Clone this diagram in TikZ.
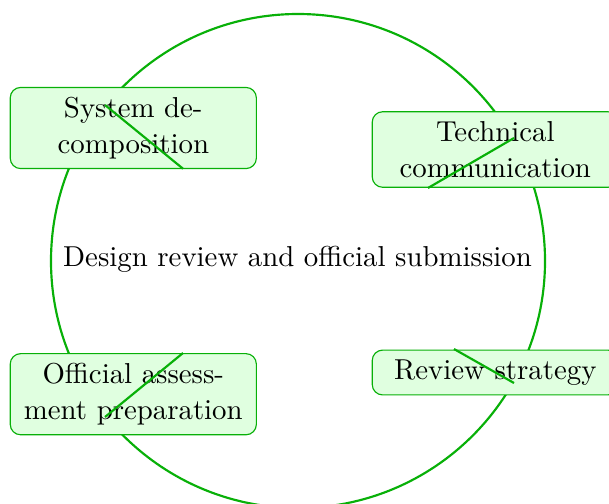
\documentclass[tikz,border=0pt]{standalone}
\definecolor{ringgreen}{RGB}{8,176,8}
\definecolor{boxfill}{RGB}{224,255,224}
\tikzset{
  topic/.style={draw=ringgreen, fill=boxfill, rounded corners=3.6pt, line width=0.4pt,
    minimum width=85.4pt, align=center, inner sep=3.33pt,
    font=\fontsize{10}{12.5}\selectfont},
  ring/.style={draw=ringgreen, line width=0.75pt},
  bar/.style={draw=ringgreen, line width=0.75pt},
  centertext/.style={font=\fontsize{10}{12.5}\selectfont, inner sep=0pt}
}
\begin{document}
\begin{tikzpicture}[x=0.347pt, y=-0.347pt]
\useasboundingbox (0,0) rectangle (609,503);
\node[centertext] (c) at (297.5,259.5) {Design review and official submission};
\draw[ring] (298,261) circle[radius=247];
\node[topic] (n1) at (133.3,128) {System de-\\composition};
\node[topic] (n2) at (495.3,149.5) {Technical\\communication};
\node[topic] (n3) at (133.3,394.2) {Official assess-\\ment preparation};
\node[topic] (n4) at (495.3,372.5) {Review strategy};
\coordinate (a1) at (105,105);
\coordinate (b1) at (183,168.7);
\coordinate (a2) at (514,138);
\coordinate (b2) at (428,188);
\coordinate (a3) at (183,353);
\coordinate (b3) at (105,417);
\coordinate (a4) at (454,349);
\coordinate (b4) at (514,383);
\draw[bar] (a1) -- (b1);
\draw[bar] (a2) -- (b2);
\draw[bar] (a3) -- (b3);
\draw[bar] (a4) -- (b4);
\end{tikzpicture}
\end{document}
